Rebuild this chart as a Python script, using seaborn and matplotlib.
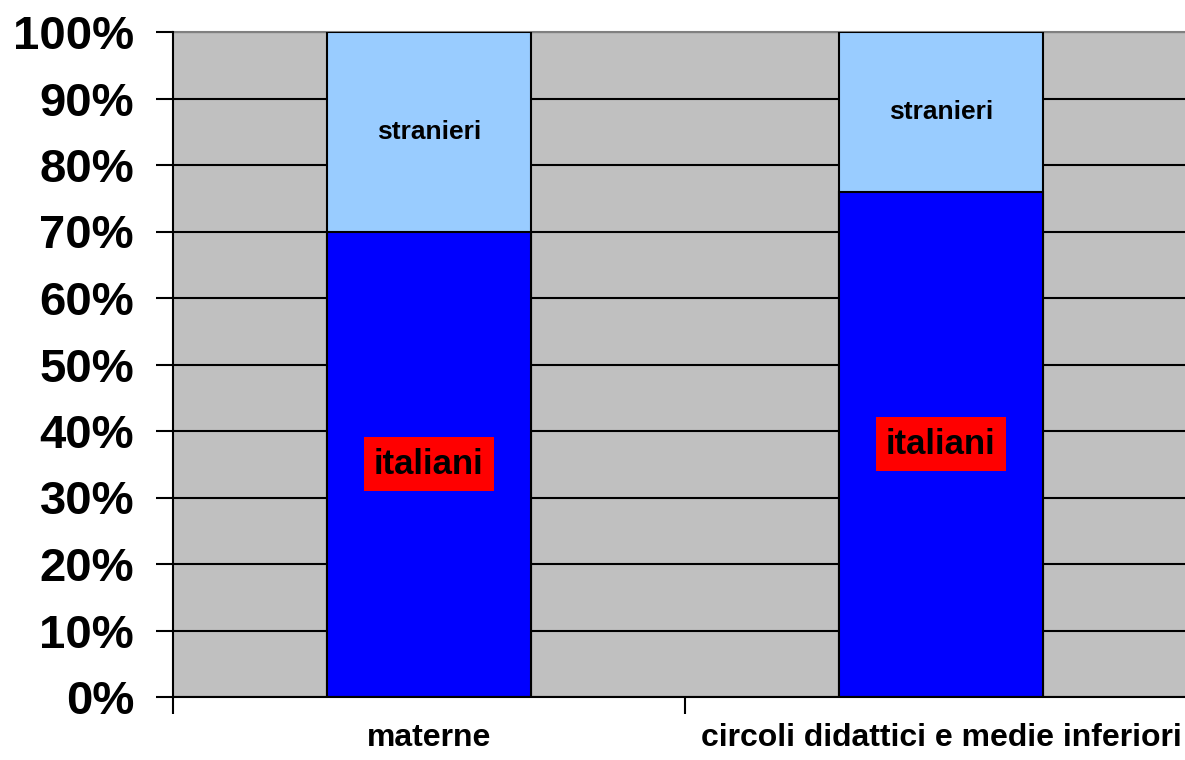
import seaborn as sns
import pandas as pd
import matplotlib.pyplot as plt

categories = ['materne', 'circoli didattici e medie inferiori']
italiani = [70, 76]
stranieri = [30, 24]
yticks = [0, 10, 20, 30, 40, 50, 60, 70, 80, 90, 100]
ytick_labels = ['%d%%' % v for v in yticks]


def get_data():
    df = pd.DataFrame({'cat': categories,
                       'italiani': italiani,
                       'stranieri': stranieri})
    df['totale'] = df['italiani'] + df['stranieri']
    return df


def plot(df):
    sns.set_style('white')
    plt.rcParams['font.family'] = ['Liberation Sans', 'DejaVu Sans']
    plt.rcParams['font.weight'] = 'bold'
    plt.rcParams['text.color'] = 'black'
    plt.rcParams['xtick.color'] = 'black'
    plt.rcParams['ytick.color'] = 'black'

    fig = plt.figure(figsize=(11.85, 7.6), dpi=100)
    ax = fig.add_axes([173 / 1185, 63 / 760, 1024 / 1185, 665 / 760])
    ax.set_facecolor('#C0C0C0')

    # stacked: draw the total in light blue, then italiani on top of it
    sns.barplot(data=df, x='cat', y='totale', color='#99CCFF', width=0.4,
                edgecolor='black', linewidth=1.5, saturation=1, ax=ax)
    sns.barplot(data=df, x='cat', y='italiani', color='#0000FF', width=0.4,
                edgecolor='black', linewidth=1.5, saturation=1, ax=ax)

    ax.set_xlim(-0.5, 1.5)
    ax.set_ylim(0, 100)
    ax.set_axisbelow(True)
    ax.yaxis.grid(True, color='black', linewidth=1.5)
    ax.set_xticks([-0.5, 0.5, 1.5], minor=False)
    ax.set_xticks([0, 1], minor=True)
    ax.set_xticklabels(['', '', ''])
    ax.set_xticklabels(categories, minor=True, fontsize=23,
                       fontweight='bold', color='black')
    ax.tick_params(axis='x', which='minor', length=0, pad=19)
    ax.tick_params(axis='x', which='major', length=12, width=1.5,
                   color='black', direction='out', bottom=True)
    ax.set_yticks(yticks)
    ax.set_yticklabels(ytick_labels, fontsize=34, fontweight='bold',
                       color='black')
    ax.tick_params(axis='y', length=12, width=1.5, color='black',
                   direction='out', left=True, pad=16)
    ax.set_xlabel('')
    ax.set_ylabel('')

    for s in ['left', 'bottom']:
        ax.spines[s].set_color('black')
        ax.spines[s].set_linewidth(1.5)
    ax.spines['top'].set_color('#808080')
    ax.spines['top'].set_linewidth(1.5)
    ax.spines['top'].set_zorder(0.6)
    ax.spines['right'].set_visible(False)

    for i, row in df.iterrows():
        ax.text(i, row['italiani'] + row['stranieri'] / 2, 'stranieri',
                ha='center', va='center', fontsize=19, fontweight='bold',
                color='black')
        ax.text(i, row['italiani'] / 2, 'italiani',
                ha='center', va='center', fontsize=25, fontweight='bold',
                color='black',
                bbox=dict(boxstyle='square,pad=0.3', facecolor='#FF0000',
                          edgecolor='none'))
    return fig


def main():
    df = get_data()
    fig = plot(df)
    fig.savefig('out.png', dpi=100)


if __name__ == '__main__': main()
